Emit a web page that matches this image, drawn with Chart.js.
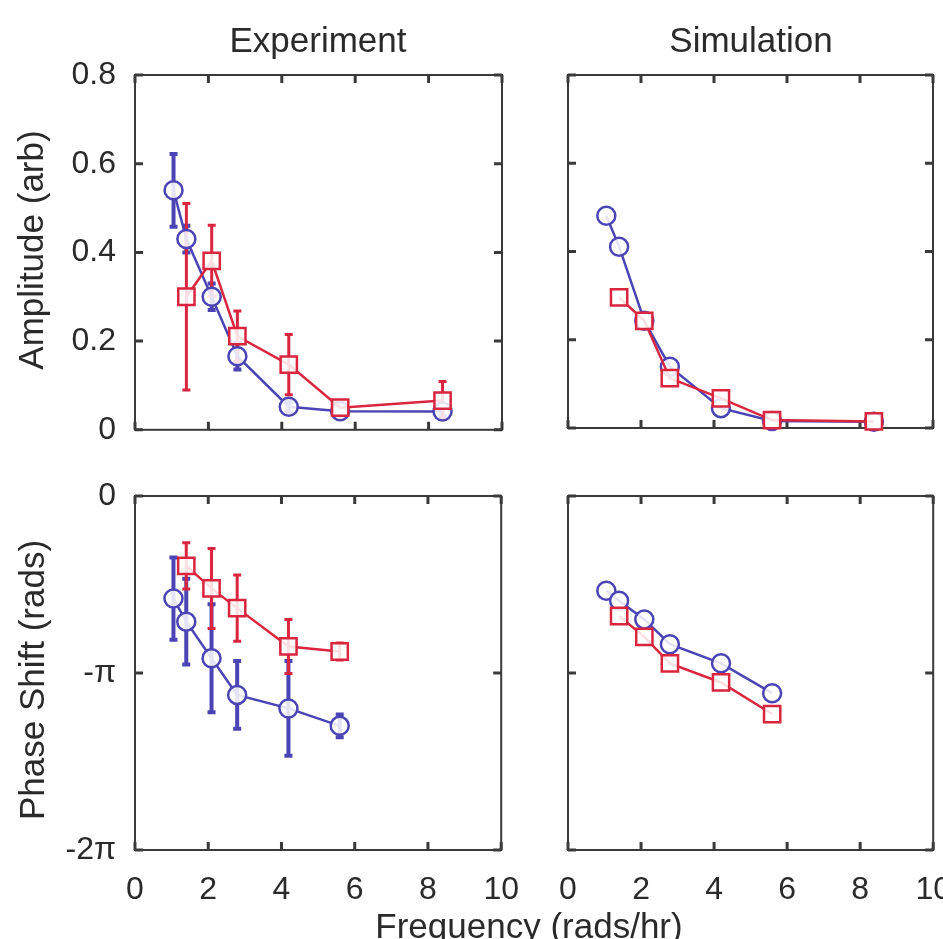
<!DOCTYPE html>
<html><head><meta charset="utf-8">
<script src="https://cdn.jsdelivr.net/npm/chart.js@4.4.1/dist/chart.umd.min.js"></script>
<style>
html,body{margin:0;padding:0;width:943px;height:939px;overflow:hidden;background:#fff;}
canvas{position:absolute;}
.t{position:absolute;font-family:"Liberation Sans",Arial,Helvetica,sans-serif;font-size:35px;line-height:1;color:#2a2a2a;white-space:nowrap;}
</style></head><body>
<canvas id="tl" style="left:0px;top:30px" width="520" height="438"></canvas>
<canvas id="tr" style="left:520px;top:30px" width="427" height="420"></canvas>
<canvas id="bl" style="left:0px;top:450px" width="540" height="489"></canvas>
<canvas id="br" style="left:520px;top:450px" width="452" height="489"></canvas>
<div class="t" style="left:318px;top:22px;transform:translateX(-50%)">Experiment</div>
<div class="t" style="left:751px;top:22px;transform:translateX(-50%)">Simulation</div>
<div class="t" style="left:529px;top:908px;transform:translateX(-50%)">Frequency (rads/hr)</div>
<div class="t" style="left:30px;top:250px;transform:translate(-50%,-50%) rotate(-90deg)">Amplitude (arb)</div>
<div class="t" style="left:31px;top:680px;transform:translate(-50%,-50%) rotate(-90deg)">Phase Shift (rads)</div>
<script>
// ---- data ----
const freqs = [1.05, 1.40, 2.09, 2.79, 4.19, 5.59, 8.38];
const freqsRedAmp = [1.40, 2.09, 2.79, 4.19, 5.59, 8.38];
const freqsPhaseBlue = [1.05, 1.40, 2.09, 2.79, 4.19, 5.59];
const freqsPhaseRed = [1.40, 2.09, 2.79, 4.19, 5.59];

const expAmpBlue    = [0.54, 0.43, 0.30, 0.166, 0.052, 0.042, 0.041];
const expAmpBlueErr = [0.082, 0.03, 0.03, 0.03, 0.012, 0.01, 0.01];
const expAmpRed     = [0.30, 0.381, 0.211, 0.147, 0.05, 0.066];
const expAmpRedErr  = [0.21, 0.08, 0.057, 0.068, 0.012, 0.043];

const simAmpBlue = [0.481, 0.411, 0.243, 0.139, 0.045, 0.016, 0.014];
const simAmpRed  = [0.296, 0.243, 0.113, 0.067, 0.018, 0.015];

const expPhaseBlue    = [-1.82, -2.23, -2.88, -3.53, -3.77, -4.08];
const expPhaseBlueErr = [0.73, 0.76, 0.96, 0.60, 0.84, 0.20];
const expPhaseRed     = [-1.24, -1.64, -1.99, -2.67, -2.76];
const expPhaseRedErr  = [0.41, 0.71, 0.59, 0.48, 0.15];

const simPhaseBlue = [-1.68, -1.86, -2.19, -2.63, -2.97, -3.50];
const simPhaseRed  = [-2.13, -2.50, -2.97, -3.31, -3.87];

const xTicks = [0, 2, 4, 6, 8, 10];
const xTickLabels = ['0', '2', '4', '6', '8', '10'];
const ampTicks = [0, 0.2, 0.4, 0.6, 0.8];
const ampTickLabels = ['0', '0.2', '0.4', '0.6', '0.8'];
const phaseTicks = [-2 * Math.PI, -Math.PI, 0];
const phaseTickLabels = ['-2\u03c0', '-\u03c0', '0'];

// ---- styles ----
const BLUE = '#4a44b4';
const RED = '#d9263e';
const FRAME = '#3a3a3a';
const FONT = {family: '"Liberation Sans", Arial, Helvetica, sans-serif', size: 32};

const pts = (xs, ys) => xs.map((x, i) => ({x: x, y: ys[i]}));

const framePlugin = {
  id: 'frame',
  beforeDatasetsDraw(chart) {
    const {ctx, chartArea: a, scales} = chart;
    ctx.save();
    ctx.strokeStyle = FRAME;
    ctx.lineWidth = 2;
    ctx.strokeRect(a.left, a.top, a.right - a.left, a.bottom - a.top);
    ctx.lineWidth = 3;
    const L = 8;
    scales.x.ticks.forEach(t => {
      const px = scales.x.getPixelForValue(t.value);
      ctx.beginPath();
      ctx.moveTo(px, a.bottom); ctx.lineTo(px, a.bottom - L);
      ctx.moveTo(px, a.top); ctx.lineTo(px, a.top + L);
      ctx.stroke();
    });
    scales.y.ticks.forEach(t => {
      const py = scales.y.getPixelForValue(t.value);
      ctx.beginPath();
      ctx.moveTo(a.left, py); ctx.lineTo(a.left + L, py);
      ctx.moveTo(a.right, py); ctx.lineTo(a.right - L, py);
      ctx.stroke();
    });
    // error bars
    chart.data.datasets.forEach((ds, di) => {
      if (!ds.errors) return;
      const meta = chart.getDatasetMeta(di);
      ctx.strokeStyle = ds.borderColor;
      ctx.lineWidth = ds.errWidth || 3;
      ds.data.forEach((p, i) => {
        const e = ds.errors[i];
        const px = meta.data[i].x;
        const y1 = scales.y.getPixelForValue(p.y + e);
        const y2 = scales.y.getPixelForValue(p.y - e);
        ctx.beginPath();
        ctx.moveTo(px, y1); ctx.lineTo(px, y2);
        ctx.moveTo(px - 4, y1); ctx.lineTo(px + 4, y1);
        ctx.moveTo(px - 4, y2); ctx.lineTo(px + 4, y2);
        ctx.stroke();
      });
    });
    ctx.restore();
  }
};

function blueSet(data, errs) {
  return {data, errors: errs, errWidth: 4, borderColor: BLUE, backgroundColor: 'rgba(255,255,255,0.85)',
    pointStyle: 'circle', pointRadius: 9, pointBorderWidth: 2.5, borderWidth: 2.5, showLine: true, clip: false, order: 2};
}
function redSet(data, errs) {
  return {data, errors: errs, errWidth: 3, borderColor: RED, backgroundColor: 'rgba(255,255,255,0.85)',
    pointStyle: 'rect', pointRadius: 11.5, pointBorderWidth: 2.5, borderWidth: 2.5, showLine: true, clip: false, order: 1};
}

function make(id, datasets, o) {
  new Chart(document.getElementById(id), {
    type: 'scatter',
    data: {datasets},
    options: {
      responsive: false, animation: false, devicePixelRatio: 1,
      layout: {padding: o.padding},
      plugins: {legend: {display: false}, tooltip: {enabled: false}},
      scales: {
        x: {
          type: 'linear', min: 0, max: 10,
          afterBuildTicks: s => { s.ticks = xTicks.map(v => ({value: v})); },
          ticks: {display: o.showX, font: FONT, color: '#2a2a2a', padding: 21, autoSkip: false, maxRotation: 0,
                  callback: (v) => xTickLabels[xTicks.indexOf(v)]},
          grid: {display: false, drawTicks: false}, border: {display: false},
          afterFit: s => { s.height = o.xh; }
        },
        y: {
          type: 'linear', min: o.ymin, max: o.ymax,
          afterBuildTicks: s => { s.ticks = o.yt.map(v => ({value: v})); },
          ticks: {display: o.showY, font: FONT, color: '#2a2a2a', padding: 19, autoSkip: false,
                  callback: (v) => { const i = o.yt.findIndex(t => Math.abs(t - v) < 1e-9); return o.yl[i]; }},
          grid: {display: false, drawTicks: false}, border: {display: false},
          afterFit: s => { s.width = o.yw; }
        }
      }
    },
    plugins: [framePlugin]
  });
}

make('tl', [blueSet(pts(freqs, expAmpBlue), expAmpBlueErr), redSet(pts(freqsRedAmp, expAmpRed), expAmpRedErr)],
  {padding: {left: 0, right: 18, top: 45, bottom: 22}, showX: false, showY: true, xh: 0, yw: 135,
   ymin: 0, ymax: 0.8, yt: ampTicks, yl: ampTickLabels});
make('tr', [blueSet(pts(freqs, simAmpBlue), null), redSet(pts(freqsRedAmp, simAmpRed), null)],
  {padding: {left: 48, right: 9, top: 45, bottom: 22}, showX: false, showY: false, xh: 0, yw: 0,
   ymin: 0, ymax: 0.8, yt: ampTicks, yl: ampTickLabels});
make('bl', [blueSet(pts(freqsPhaseBlue, expPhaseBlue), expPhaseBlueErr), redSet(pts(freqsPhaseRed, expPhaseRed), expPhaseRedErr)],
  {padding: {left: 0, right: 38, top: 46, bottom: 0}, showX: true, showY: true, xh: 89, yw: 135,
   ymin: -2 * Math.PI, ymax: 0, yt: phaseTicks, yl: phaseTickLabels});
make('br', [blueSet(pts(freqsPhaseBlue, simPhaseBlue), null), redSet(pts(freqsPhaseRed, simPhaseRed), null)],
  {padding: {left: 48, right: 26, top: 46, bottom: 0}, showX: true, showY: false, xh: 89, yw: 0,
   ymin: -2 * Math.PI, ymax: 0, yt: phaseTicks, yl: phaseTickLabels});
</script>
</body></html>
